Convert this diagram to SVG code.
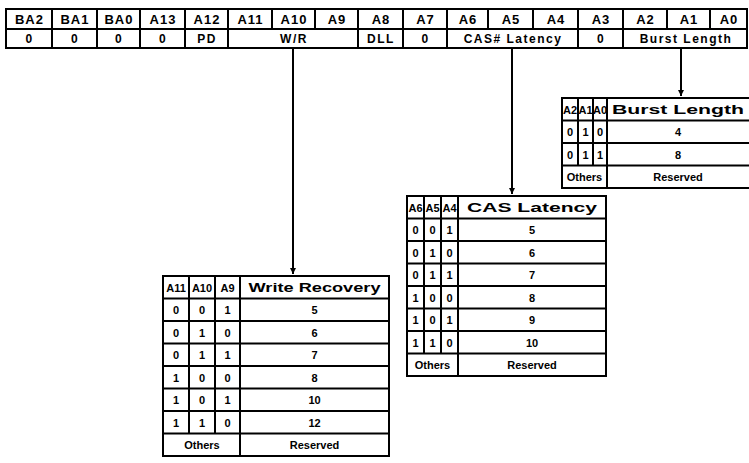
<svg xmlns="http://www.w3.org/2000/svg" width="749" height="463" viewBox="0 0 749 463">
<defs>
<style>
.bx{fill:#fff;stroke:#000;stroke-width:2}
.ln{stroke:#000;stroke-width:2;fill:none}
.t{font-family:"Liberation Sans",Arial,sans-serif;font-weight:bold;fill:#000;text-anchor:middle}
.h{font-size:13px;letter-spacing:1px}
.s{font-size:12px;letter-spacing:1.5px}
.th{font-size:11px}
.tl{font-size:12px}
.d{font-size:11px}
</style>
<marker id="arr" viewBox="0 0 6 6" refX="6" refY="3" markerWidth="3" markerHeight="3" orient="auto" markerUnits="strokeWidth">
<path d="M0,0 L6,3 L0,6 Z" fill="#000"/>
</marker>
</defs>
<rect width="749" height="463" fill="#fff"/>

<g id="register">
<rect class="bx" x="6" y="9" width="741" height="39"/>
<path class="ln" d="M6,29H747 M52,9V48 M97,9V48 M140,9V48 M185,9V48 M228,9V48 M272,9V29 M315,9V29 M358,9V48 M403,9V48 M447,9V48 M488,9V29 M533,9V29 M578,9V48 M623,9V48 M667,9V29 M710,9V29"/>
<g class="t h">
<text x="29.5" y="24">BA2</text><text x="75" y="24">BA1</text><text x="119" y="24">BA0</text><text x="163" y="24">A13</text>
<text x="207" y="24">A12</text><text x="250.5" y="24">A11</text><text x="294" y="24">A10</text><text x="337" y="24">A9</text>
<text x="381" y="24">A8</text><text x="425.5" y="24">A7</text><text x="468" y="24">A6</text><text x="511" y="24">A5</text>
<text x="556" y="24">A4</text><text x="601" y="24">A3</text><text x="645.5" y="24">A2</text><text x="689" y="24">A1</text><text x="729" y="24">A0</text>
</g>
<g class="t s">
<text x="29.5" y="43">0</text><text x="75" y="43">0</text><text x="119" y="43">0</text><text x="163" y="43">0</text>
<text x="207" y="43">PD</text><text x="294" y="43">W/R</text><text x="381" y="43">DLL</text><text x="425.5" y="43">0</text>
<text x="513" y="43">CAS# Latency</text><text x="601" y="43">0</text><text x="686" y="43">Burst Length</text>
</g>
</g>

<g id="connectors">
<path class="ln" d="M293,48V274" marker-end="url(#arr)"/>
<path class="ln" d="M512,48V194" marker-end="url(#arr)"/>
<path class="ln" d="M681,48V96" marker-end="url(#arr)"/>
</g>

<g id="table-burst">
<rect class="bx" x="562" y="98" width="192" height="90"/>
<path class="ln" d="M562,120.5H754 M562,143H754 M562,165.5H754 M578,98V165.5 M593,98V165.5 M607,98V188"/>
<g class="t th">
<text x="570" y="113.5">A2</text><text x="585.5" y="113.5">A1</text><text x="600" y="113.5">A0</text>
</g>
<text class="t tl" x="612" y="113.5" style="text-anchor:start" textLength="132" lengthAdjust="spacingAndGlyphs">Burst Length</text>
<g class="t d">
<text x="570" y="136">0</text><text x="585.5" y="136">1</text><text x="600" y="136">0</text><text x="678" y="136">4</text>
<text x="570" y="158.5">0</text><text x="585.5" y="158.5">1</text><text x="600" y="158.5">1</text><text x="678" y="158.5">8</text>
<text x="584.5" y="181">Others</text><text x="678" y="181">Reserved</text>
</g>
</g>

<g id="table-cas">
<rect class="bx" x="407" y="196" width="199" height="180"/>
<path class="ln" d="M407,218.5H606 M407,241H606 M407,263.5H606 M407,286H606 M407,308.5H606 M407,331H606 M407,353.5H606 M424,196V353.5 M441,196V353.5 M458,196V376"/>
<g class="t th">
<text x="415.5" y="211.5">A6</text><text x="432.5" y="211.5">A5</text><text x="449.5" y="211.5">A4</text>
</g>
<text class="t tl" x="532" y="211.5" textLength="130" lengthAdjust="spacingAndGlyphs">CAS Latency</text>
<g class="t d">
<text x="415.5" y="234">0</text><text x="432.5" y="234">0</text><text x="449.5" y="234">1</text><text x="532" y="234">5</text>
<text x="415.5" y="256.5">0</text><text x="432.5" y="256.5">1</text><text x="449.5" y="256.5">0</text><text x="532" y="256.5">6</text>
<text x="415.5" y="279">0</text><text x="432.5" y="279">1</text><text x="449.5" y="279">1</text><text x="532" y="279">7</text>
<text x="415.5" y="301.5">1</text><text x="432.5" y="301.5">0</text><text x="449.5" y="301.5">0</text><text x="532" y="301.5">8</text>
<text x="415.5" y="324">1</text><text x="432.5" y="324">0</text><text x="449.5" y="324">1</text><text x="532" y="324">9</text>
<text x="415.5" y="346.5">1</text><text x="432.5" y="346.5">1</text><text x="449.5" y="346.5">0</text><text x="532" y="346.5">10</text>
<text x="432.5" y="369">Others</text><text x="532" y="369">Reserved</text>
</g>
</g>

<g id="table-wr">
<rect class="bx" x="163" y="276" width="226" height="180"/>
<path class="ln" d="M163,298.5H389 M163,321H389 M163,343.5H389 M163,366H389 M163,388.5H389 M163,411H389 M163,433.5H389 M189,276V433.5 M215,276V433.5 M240,276V456"/>
<g class="t th">
<text x="176" y="291.5">A11</text><text x="202" y="291.5">A10</text><text x="227.5" y="291.5">A9</text>
</g>
<text class="t tl" x="314.5" y="291.5" textLength="132" lengthAdjust="spacingAndGlyphs">Write Recovery</text>
<g class="t d">
<text x="176" y="314">0</text><text x="202" y="314">0</text><text x="227.5" y="314">1</text><text x="314.5" y="314">5</text>
<text x="176" y="336.5">0</text><text x="202" y="336.5">1</text><text x="227.5" y="336.5">0</text><text x="314.5" y="336.5">6</text>
<text x="176" y="359">0</text><text x="202" y="359">1</text><text x="227.5" y="359">1</text><text x="314.5" y="359">7</text>
<text x="176" y="381.5">1</text><text x="202" y="381.5">0</text><text x="227.5" y="381.5">0</text><text x="314.5" y="381.5">8</text>
<text x="176" y="404">1</text><text x="202" y="404">0</text><text x="227.5" y="404">1</text><text x="314.5" y="404">10</text>
<text x="176" y="426.5">1</text><text x="202" y="426.5">1</text><text x="227.5" y="426.5">0</text><text x="314.5" y="426.5">12</text>
<text x="202" y="449">Others</text><text x="314.5" y="449">Reserved</text>
</g>
</g>
</svg>
